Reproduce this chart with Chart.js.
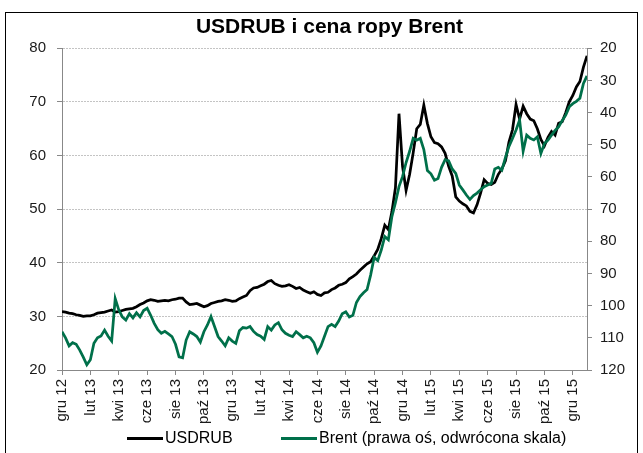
<!DOCTYPE html>
<html>
<head>
<meta charset="utf-8">
<script src="https://cdn.jsdelivr.net/npm/chart.js@4/dist/chart.umd.min.js"></script>
<style>
  body { margin: 0; background: #fff; }
  #wrap { position: relative; width: 643px; height: 453px; font-family: 'Liberation Sans', Arial, sans-serif; }
  #frame { position: absolute; left: 5px; top: 12px; width: 631px; height: 460px; border: 1.5px solid #000; pointer-events: none; }
  #legend { position: absolute; top: 429px; left: 0; height: 18px; width: 643px; font-size: 16px; color: #000; }
  #legend .item { position: absolute; top: 0; height: 18px; display: flex; align-items: center; white-space: nowrap; }
  #legend .line { display: inline-block; width: 36px; height: 3px; margin-right: 2px; }
</style>
</head>
<body>
<div id="wrap">
  <canvas id="myLineChart" width="643" height="453"></canvas>
  <div id="legend"></div>
  <div id="frame"></div>
</div>
<script>
/*  data (weekly, from gru 12 to sty 16)
-------------------------------------------------------*/
var tickLabels = ['gru 12', 'lut 13', 'kwi 13', 'cze 13', 'sie 13', 'paź 13', 'gru 13', 'lut 14', 'kwi 14', 'cze 14',
  'sie 14', 'paź 14', 'gru 14', 'lut 15', 'kwi 15', 'cze 15', 'sie 15', 'paź 15', 'gru 15'];

var usdrub = [30.9, 30.8, 30.6, 30.5, 30.3, 30.2, 30.0, 30.1, 30.1,
  30.3, 30.6, 30.7, 30.8, 31.0, 31.2, 30.8, 30.9,
  31.1, 31.3, 31.4, 31.5, 31.8, 32.2, 32.5, 32.9,
  33.1, 33.0, 32.8, 32.9, 33.0, 32.9, 33.1, 33.2,
  33.4, 33.4, 32.7, 32.2, 32.3, 32.4, 32.1, 31.8,
  32.0, 32.4, 32.6, 32.8, 32.9, 33.1, 33.0, 32.8,
  32.9, 33.3, 33.6, 33.9, 34.8, 35.3, 35.4, 35.7,
  36.0, 36.5, 36.7, 36.1, 35.8, 35.6, 35.7, 35.9,
  35.6, 35.2, 35.4, 34.9, 34.6, 34.3, 34.6, 34.1,
  33.9, 34.4, 34.5, 35.0, 35.3, 35.8, 36.0, 36.3,
  37.0, 37.4, 37.9, 38.6, 39.2, 39.8, 40.2, 41.3,
  42.5, 44.5, 47.0, 46.2, 49.5, 54.0, 67.8, 58.0,
  53.5, 56.5, 60.5, 65.0, 65.8, 69.4, 66.0, 63.5,
  62.4, 62.2, 61.6, 60.4, 58.0, 56.2, 52.3, 51.5,
  51.0, 50.6, 49.6, 49.3, 50.8, 53.0, 55.5, 54.8,
  54.6, 55.0, 56.5, 57.5, 59.0, 62.5, 64.8, 69.5,
  66.8, 69.2, 67.8, 66.8, 66.5, 65.0, 63.0, 61.8,
  63.4, 64.5, 63.8, 66.0, 66.3, 68.0, 70.0, 71.2,
  72.8, 73.8, 76.5, 78.6];

var brent = [108.1, 110.0, 112.5, 111.5, 112.0, 113.8, 116.0, 118.4, 116.8,
  111.7, 110.0, 109.4, 107.6, 109.5, 111.0, 97.8, 101.3,
  103.5, 104.5, 102.5, 103.8, 102.2, 103.5, 101.5, 100.8,
  103.0, 105.5, 107.5, 108.6, 108.0, 108.8, 109.6, 112.0,
  115.9, 116.2, 110.7, 108.1, 108.8, 109.6, 111.3, 108.1,
  106.0, 103.4, 106.5, 109.6, 111.0, 112.5, 110.0, 111.0,
  111.7, 107.8, 106.8, 107.0, 106.5, 108.0, 109.0, 109.5,
  110.5, 106.5, 107.6, 106.0, 105.3, 107.5, 108.6, 109.2,
  109.6, 108.1, 109.0, 110.0, 109.5, 110.0, 111.5, 114.5,
  112.5, 109.5, 106.5, 105.8, 106.5, 104.8, 102.5, 101.9,
  103.5, 103.0, 99.0, 97.2, 96.0, 95.0, 90.5, 85.0,
  86.0, 82.7, 78.5, 79.5, 72.3, 68.0, 63.0, 59.9,
  55.5, 52.0, 48.0, 48.6, 48.0, 51.5, 58.0, 59.0,
  61.0, 60.5, 57.0, 54.6, 55.0, 57.5, 58.9, 62.5,
  64.0, 65.6, 67.0, 65.8, 65.0, 64.0, 63.0, 62.5,
  62.0, 57.5, 57.0, 57.9, 54.0, 50.5, 48.0, 45.4,
  42.3, 52.0, 47.0, 48.0, 48.5, 47.5, 52.7, 49.6,
  48.5, 47.0, 45.5, 44.4, 42.5, 40.8, 38.2, 37.2,
  36.5, 35.5, 30.9, 28.6];

var weeks = usdrub.map(function (v, i) { return i; });   // 8 weeks ~ 2 months

Chart.defaults.font.family = "'Liberation Sans', Arial, sans-serif";
Chart.defaults.color = '#1a1a1a';

/*  chart
-------------------------------------------------------*/
var ctx = document.getElementById("myLineChart");
var myLineChart = new Chart(ctx, {
  type: 'line',
  data: {
    labels: weeks,
    datasets: [{
        label: 'USDRUB',
        data: usdrub,
        yAxisID: 'y',
        borderColor: "#000000",
        backgroundColor: "#000000",
        borderWidth: 2.75,
        lineTension: 0,
        order: 1
      }, {
        label: 'Brent (prawa oś, odwrócona skala)',
        data: brent,
        yAxisID: 'y2',
        borderColor: "#00704a",
        backgroundColor: "#00704a",
        borderWidth: 2.75,
        lineTension: 0,
        order: 0
      }
    ]
  },
  options: {
    responsive: false,
    animation: false,
    layout: { padding: { left: 16, bottom: 27 } },
    elements: {
      point: { radius: 0 }
    },
    plugins: {
      title: {
        display: true,
        text: 'USDRUB i cena ropy Brent',
        color: '#000',
        font: { size: 21, weight: 'bold' },
        padding: { top: 15, bottom: 8.1 }
      },
      legend: { display: false },
      tooltip: { enabled: false }
    },
    scales: {
      x: {
        type: 'linear',
        min: 0,
        max: 148,
        afterBuildTicks: function (axis) {
          axis.ticks = tickLabels.map(function (t, k) { return { value: k * 8 }; });
        },
        afterFit: function (axis) { axis.height = 56; },
        ticks: {
          minRotation: 90,
          maxRotation: 90,
          padding: 4,
          font: { size: 15 },
          callback: function (v) { return tickLabels[v / 8]; }
        },
        grid: { drawOnChartArea: false, tickLength: 5, color: '#888' },
        border: { color: '#888', width: 1 }
      },
      y: {
        position: 'left',
        min: 20,
        max: 80,
        afterFit: function (axis) { axis.width = 46; },
        ticks: { stepSize: 10, padding: 11, font: { size: 15 } },
        grid: { color: '#c4c4c4', lineWidth: 1, tickLength: 5, tickColor: '#888' },
        border: { color: '#888', width: 1, dash: [2, 1] }
      },
      y2: {
        position: 'right',
        reverse: true,
        min: 20,
        max: 120,
        afterFit: function (axis) { axis.width = 56; },
        ticks: { stepSize: 10, padding: 8, font: { size: 15 } },
        grid: { drawOnChartArea: false, tickLength: 5, color: '#888' },
        border: { color: '#888', width: 1 }
      }
    }
  }
});

/*  legend (html, placed like the Excel one)
-------------------------------------------------------*/
var legendLeft = [127, 281];
var legend = document.getElementById('legend');
myLineChart.data.datasets.forEach(function (ds, k) {
  var item = document.createElement('div');
  item.className = 'item';
  item.style.left = legendLeft[k] + 'px';
  var line = document.createElement('span');
  line.className = 'line';
  line.style.background = ds.borderColor;
  item.appendChild(line);
  item.appendChild(document.createTextNode(ds.label));
  legend.appendChild(item);
});
</script>
</body>
</html>
